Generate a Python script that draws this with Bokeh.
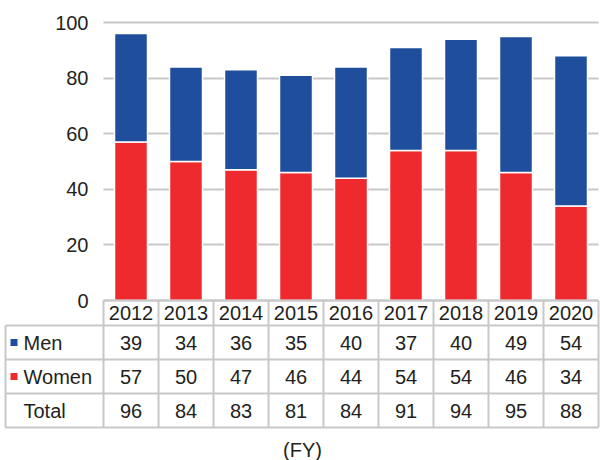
from bokeh.plotting import figure
from bokeh.models import Range1d, FixedTicker, ColumnDataSource, LinearAxis, Grid
from bokeh.embed import file_html
from bokeh.resources import INLINE
from bokeh.core.properties import value

# ---- data ----
years = ["2012", "2013", "2014", "2015", "2016", "2017", "2018", "2019", "2020"]
men = [39, 34, 36, 35, 40, 37, 40, 49, 54]
women = [57, 50, 47, 46, 44, 54, 54, 46, 34]
total = [96, 84, 83, 81, 84, 91, 94, 95, 88]
y_ticks = [0, 20, 40, 60, 80, 100]
row_labels = ["Men", "Women", "Total"]
x_unit_label = "(FY)"

# ---- style / layout ----
BLUE = "#1f4e9c"
RED = "#ee2a2e"
GRID = "#c8c8c8"
TXT = "#231f20"
FONT = "Liberation Sans"
FS = "20px"

W, H = 600, 460
PX0, PXC = 103, 55      # px of category 0 edge, px per category
PY0, PYU = 300, 2.78    # px of value 0, px per value unit


def X(px):
    return (px - PX0) / PXC


def Y(py):
    return (PY0 - py) / PYU


n = len(years)
xs = [i + 0.5 for i in range(n)]

p = figure(width=W, height=H, x_range=Range1d(X(0), X(W)), y_range=Range1d(Y(H), Y(0)),
           output_backend="svg", toolbar_location=None,
           x_axis_location=None, y_axis_location=None,
           min_border_left=0, min_border_right=0, min_border_top=0, min_border_bottom=0)
p.outline_line_color = None
p.grid.visible = False

# value axis drawn at the left edge of the plot area
yaxis = LinearAxis(ticker=FixedTicker(ticks=y_ticks), fixed_location=0)
yaxis.axis_line_color = None
yaxis.major_tick_line_color = None
yaxis.minor_tick_line_color = None
yaxis.major_tick_out = 0
yaxis.major_tick_in = 0
yaxis.major_label_standoff = 15
yaxis.major_label_text_font_size = FS
yaxis.major_label_text_font = FONT
yaxis.major_label_text_color = TXT
p.add_layout(yaxis, "left")

grid = Grid(dimension=1, ticker=FixedTicker(ticks=y_ticks), cross_bounds=(0, n),
            grid_line_color=GRID, grid_line_width=2)
p.add_layout(grid)

src = ColumnDataSource(dict(x=xs, women=women, men=men, year=years))
p.vbar_stack(["women", "men"], x="x", width=0.6, fill_color=[RED, BLUE],
             line_color="white", line_width=1.5, source=src)

# ---- table ----
label_left = X(5)
hdr_top, hdr_bot = Y(300), Y(325)
row_px = [325, 359, 393, 427]
row_y = [Y(v) for v in row_px]

bounds = list(range(n + 1))
# header row
p.segment(x0=[0], y0=[hdr_top], x1=[n], y1=[hdr_top], line_color=GRID, line_width=2)
# horizontal row lines
p.segment(x0=[label_left] * len(row_y), y0=row_y, x1=[n] * len(row_y), y1=row_y,
          line_color=GRID, line_width=2)
# vertical lines
p.segment(x0=bounds, y0=[hdr_top] * len(bounds), x1=bounds, y1=[row_y[-1]] * len(bounds),
          line_color=GRID, line_width=2)
p.segment(x0=[label_left], y0=[row_y[0]], x1=[label_left], y1=[row_y[-1]],
          line_color=GRID, line_width=2)

txt = dict(text_baseline="middle", text_font=value(FONT), text_font_size=FS, text_color=TXT)
p.text(x=xs, y=[(hdr_top + hdr_bot) / 2] * n, text=years, text_align="center", **txt)

centers = [(row_y[k] + row_y[k + 1]) / 2 for k in range(len(row_labels))]
p.text(x=[X(23)] * len(row_labels), y=centers, text=row_labels, text_align="left", **txt)
p.scatter(x=[X(13.5)] * 2, y=centers[:2], marker="square", size=7,
          fill_color=[BLUE, RED], line_color=None)

for k, vals in enumerate([men, women, total]):
    p.text(x=xs, y=[centers[k]] * n, text=[str(v) for v in vals], text_align="center", **txt)

p.text(x=[X(302)], y=[Y(449)], text=[x_unit_label], text_align="center", **txt)

open("out.html", "w").write(file_html(p, INLINE))
